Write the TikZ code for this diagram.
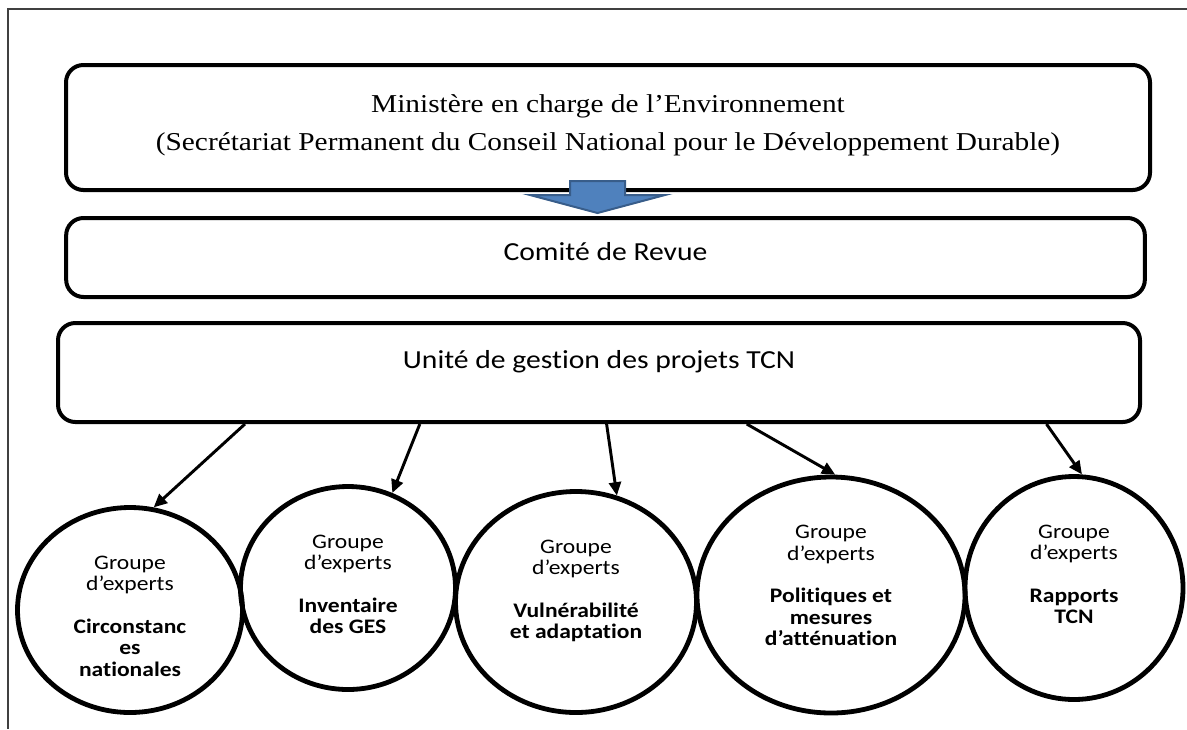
\documentclass[tikz,border=0pt]{standalone}
\usepackage{fontspec}
\setmainfont[FakeStretch=1.14]{Liberation Serif}
\newfontfamily\calibri[FakeStretch=1.14, Ligatures=NoCommon]{Carlito}
\usepackage{tikz}
\usetikzlibrary{shapes.geometric, arrows.meta, positioning, calc}
\definecolor{blockblue}{RGB}{79,129,189}
\definecolor{blockedge}{RGB}{56,93,138}

\begin{document}
\begin{tikzpicture}[
    x=0.75pt, y=-0.75pt,
    box/.style={rectangle, draw, line width=3pt, rounded corners=13pt, inner sep=0pt, align=center},
    expert/.style={ellipse, draw, line width=3.6pt, inner sep=0pt},
    experttext/.style={inner sep=0pt, align=center, font=\calibri\fontsize{15.5}{16}\selectfont},
    arrow/.style={-{Triangle[length=10pt, width=9pt]}, line width=2.2pt},
    blockarrow/.style={fill=blockblue, draw=blockedge, line width=1.5pt, line join=miter},
    frame/.style={draw=black!75, line width=0.9pt}
]
    \useasboundingbox (0,0) rectangle (1187,729);
    \draw[frame] (1187,9) -- (8,9) -- (8,729);

    % Top: ministry, review committee, project unit
    \node[box, minimum width=813pt, minimum height=93.75pt, text depth=7pt, font=\fontsize{19.3}{28.5}\selectfont] (ministere) at (608,127.5)
        {Ministère en charge de l’Environnement\\(Secrétariat Permanent du Conseil National pour le Développement Durable)};
    \node[box, minimum width=809pt, minimum height=59.25pt, text depth=9pt, font=\calibri\fontsize{19.5}{24}\selectfont] (comite) at (605.5,257.5) {Comité de Revue};
    \node[box, minimum width=811.5pt, minimum height=74.25pt, text depth=20pt, font=\calibri\fontsize{19.5}{24}\selectfont] (unite) at (599,372.5) {Unité de gestion des projets TCN};

    % Block arrow between ministry and committee
    \draw[blockarrow] (ministere.south) ++(-38,-11) -- ++(55,0) -- ++(0,14) -- ++(40,0) -- ++(-67.5,18) -- ++(-67.5,-18) -- ++(40,0) -- cycle;

    % Expert groups
    \node[expert, minimum width=168.75pt, minimum height=153.75pt] (circ) at (130,610) {};
    \node[expert, minimum width=161.25pt, minimum height=152.25pt] (inv) at (348,588) {};
    \node[expert, minimum width=180.75pt, minimum height=165.75pt] (vuln) at (576,602) {};
    \node[expert, minimum width=201pt, minimum height=177pt] (attn) at (831,595) {};
    \node[expert, minimum width=163.5pt, minimum height=167.25pt] (rapp) at (1074,588) {};

    \node[experttext, below=38pt of circ.north] (circ-txt)
        {Groupe\\d’experts\\[16pt]\textbf{Circonstanc}\\\textbf{es}\\\textbf{nationales}};
    \node[experttext, below=38pt of inv.north] (inv-txt)
        {Groupe\\d’experts\\[16pt]\textbf{Inventaire}\\\textbf{des GES}};
    \node[experttext, below=38pt of vuln.north] (vuln-txt)
        {Groupe\\d’experts\\[16pt]\textbf{Vulnérabilité}\\\textbf{et adaptation}};
    \node[experttext, below=38pt of attn.north] (attn-txt)
        {Groupe\\d’experts\\[16pt]\textbf{Politiques et}\\\textbf{mesures}\\\textbf{d’atténuation}};
    \node[experttext, below=38pt of rapp.north] (rapp-txt)
        {Groupe\\d’experts\\[16pt]\textbf{Rapports}\\\textbf{TCN}};

    % Arrows
    \draw[arrow] ($(unite.south west)!0.174!(unite.south east)$) -- (circ.77);
    \draw[arrow] ($(unite.south west)!0.335!(unite.south east)$) -- (inv.65);
    \draw[arrow] ($(unite.south west)!0.507!(unite.south east)$) -- (vuln.69);
    \draw[arrow] ($(unite.south west)!0.636!(unite.south east)$) -- (attn.88);
    \draw[arrow] ($(unite.south west)!0.912!(unite.south east)$) -- (rapp.86);

\end{tikzpicture}
\end{document}
